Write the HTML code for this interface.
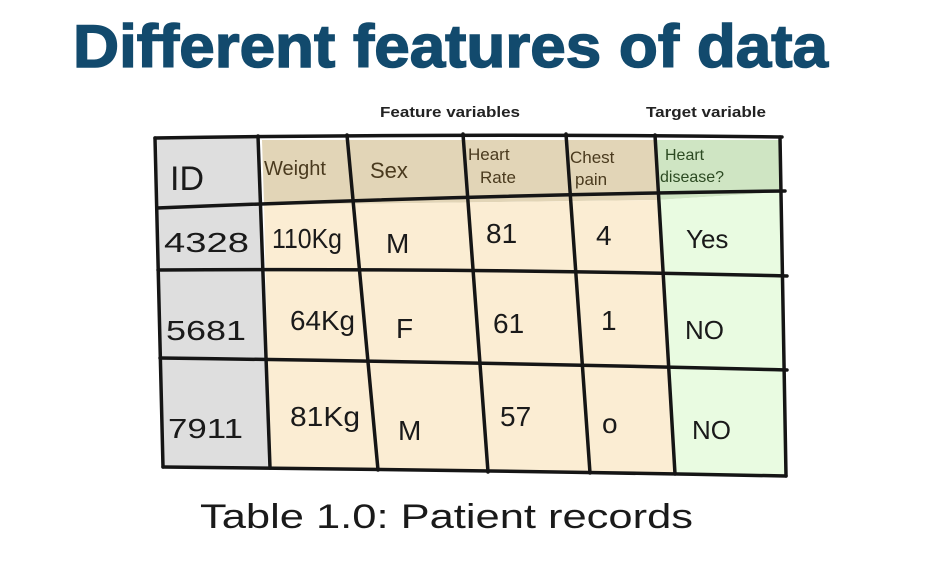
<!DOCTYPE html>
<html><head><meta charset="utf-8"><style>
html,body{margin:0;padding:0;background:#fff;}
svg{display:block;}
.h{font-family:"Liberation Sans",sans-serif;fill:#222;}
.c{font-family:"Liberation Sans",sans-serif;fill:#1a1a1a;}
</style></head><body>
<svg width="943" height="572" viewBox="0 0 943 572">
<text x="73" y="67" font-family="Liberation Sans, sans-serif" font-weight="bold" font-size="60" fill="#124a6d" stroke="#124a6d" stroke-width="1.5" textLength="755" lengthAdjust="spacingAndGlyphs">Different features of data</text>
<text x="380" y="117" class="h" font-weight="bold" font-size="15" textLength="140" lengthAdjust="spacingAndGlyphs">Feature variables</text>
<text x="646" y="117" class="h" font-weight="bold" font-size="15" textLength="120" lengthAdjust="spacingAndGlyphs">Target variable</text>
<g>
<polygon points="157,137 258,137 268,468 163,468" fill="#dedede"/>
<polygon points="262,140 655,140 657,200 264,205" fill="#e2d5b7"/>
<polygon points="264,205 657,200 675,474 270,468" fill="#fbedd3"/>
<polygon points="657,140 780,140 782,192 657,200" fill="#cfe5c3"/>
<polygon points="657,200 782,192 785,476 675,474" fill="#e9fbe1"/>
</g>
<g stroke="#151515" stroke-width="3.5" fill="none" stroke-linecap="round">
<path d="M155,138 Q470,133 782,137"/>
<path d="M157,208 Q470,195 785,191"/>
<path d="M158,270 Q470,268 787,276"/>
<path d="M160,358 Q470,362 787,370"/>
<path d="M163,467 Q470,470 786,476"/>
<path d="M155,138 L163,467"/>
<path d="M258,136 L270,468"/>
<path d="M347,135 L378,470"/>
<path d="M463,134 L488,472"/>
<path d="M566,134 L590,473"/>
<path d="M655,135 L675,474"/>
<path d="M780,137 L786,476"/>
</g>
<g class="c">
<text x="170" y="190" font-size="34">ID</text>
<text x="264" y="175" font-size="20" fill="#4a3a1e">Weight</text>
<text x="370" y="178" font-size="22" fill="#4a3a1e">Sex</text>
<text x="468" y="160" font-size="17" fill="#4a3a1e">Heart</text>
<text x="480" y="183" font-size="17" fill="#4a3a1e">Rate</text>
<text x="570" y="163" font-size="17" fill="#4a3a1e">Chest</text>
<text x="575" y="185" font-size="17" fill="#4a3a1e">pain</text>
<text x="665" y="160" font-size="16" fill="#2c4a22">Heart</text>
<text x="660" y="182" font-size="16" fill="#2c4a22">disease?</text>
</g>
<g class="c" font-size="28">
<text x="164" y="252" textLength="85" lengthAdjust="spacingAndGlyphs">4328</text>
<text x="272" y="248" textLength="70" lengthAdjust="spacingAndGlyphs">110Kg</text>
<text x="386" y="253">M</text>
<text x="486" y="243">81</text>
<text x="596" y="245">4</text>
<text x="686" y="248" font-size="26">Yes</text>
</g>
<g class="c" font-size="28">
<text x="166" y="340" textLength="80" lengthAdjust="spacingAndGlyphs">5681</text>
<text x="290" y="330" textLength="65" lengthAdjust="spacingAndGlyphs">64Kg</text>
<text x="396" y="338">F</text>
<text x="493" y="333">61</text>
<text x="601" y="330">1</text>
<text x="685" y="339" font-size="26">NO</text>
</g>
<g class="c" font-size="28">
<text x="168" y="438" textLength="75" lengthAdjust="spacingAndGlyphs">7911</text>
<text x="290" y="426" textLength="70" lengthAdjust="spacingAndGlyphs">81Kg</text>
<text x="398" y="440">M</text>
<text x="500" y="426">57</text>
<text x="602" y="433">o</text>
<text x="692" y="439" font-size="26">NO</text>
</g>
<text x="200" y="528" class="c" font-size="34" textLength="493" lengthAdjust="spacingAndGlyphs">Table 1.0: Patient records</text>
</svg>
</body></html>
